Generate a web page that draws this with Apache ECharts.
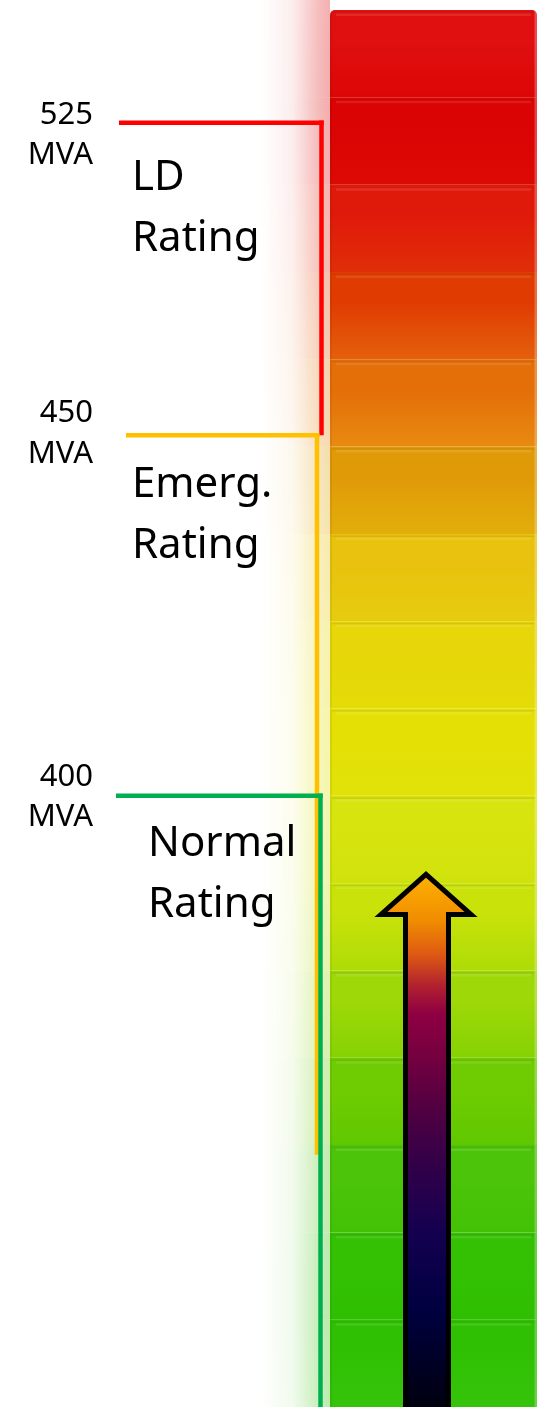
<!DOCTYPE html>
<html><head><meta charset="utf-8">
<script src="https://cdn.jsdelivr.net/npm/echarts@6/dist/echarts.min.js"></script>
<style>html,body{margin:0;padding:0;background:#fff}#c{width:551px;height:1407px}</style>
</head><body><div id="c"></div>
<script>
// ---- DATA ----
// gauge segments, listed from the bottom segment (level 0-1) to the top one (level 15-16)
const segmentLevels = [0,1,2,3,4,5,6,7,8,9,10,11,12,13,14,15];
const segmentTopColors    = ['#2fc003','#34c104','#4cc40a','#70cc02','#9ed808','#c8e20a','#d8e40e','#e4e006','#e6d60a','#e8c20e','#e09a08','#e46e08','#e03c02','#e01a0a','#da0404','#e01010'];
const segmentBottomColors = ['#36c40a','#2ec000','#42c206','#60c800','#86d204','#aedc06','#d0e20c','#e0e208','#e4dc06','#e6cc0e','#e2ae0a','#e88a10','#e4600c','#e02e08','#dc0a04','#dc0606'];
// ratings
const ratingValues = [525, 450, 400];
const ratingUnit = 'MVA';
const ratingNames = [['LD','Rating'], ['Emerg.','Rating'], ['Normal','Rating']];
const ratingLevels = [14.71, 11.13, 7.0];      // gauge level where each rating starts
const ratingLevelEnds = [11.13, 2.89, 0];      // gauge level where each rating bracket ends
const ratingColors = ['#ff0000', '#ffc000', '#00b050'];
// loading arrow (tip level on gauge)
const loadArrowLevel = [6.1];

// ---- LAYOUT (not data) ----
const BAR_X0 = 330, BAR_X1 = 537, GLOW_X0 = 262;
const ratingLayout = [
  {hx: 119, vx: 321.5, numDy: 4.5, nameX: 132, nameDy: 71.5},
  {hx: 126, vx: 317,   numDy: -10, nameX: 132, nameDy: 66},
  {hx: 116, vx: 320.5, numDy: -7,  nameX: 148, nameDy: 64.5}
];
const SMALL_FS = 31, BIG_FS = 42, SMALL_LH = 40.5, BIG_LH = 61;
const FONT = '"Noto Sans", "Open Sans", sans-serif';

function rgba(hex, a) {
  const n = parseInt(hex.slice(1), 16);
  return 'rgba(' + ((n >> 16) & 255) + ',' + ((n >> 8) & 255) + ',' + (n & 255) + ',' + a + ')';
}
function mid(fs) { return 0.388 * fs; }

const chart = echarts.init(document.getElementById('c'), null, {renderer: 'canvas'});

function renderSegment(params, api) {
  const i = params.dataIndex;
  const lvl = segmentLevels[i];
  const top = api.coord([BAR_X0, lvl + 1]);
  const bot = api.coord([BAR_X1, lvl]);
  const y0 = top[1], y1 = bot[1];
  const h = y1 - y0;
  const c0 = segmentTopColors[i], c1 = segmentBottomColors[i];
  const isTop = i === segmentLevels.length - 1;
  const glowTop = isTop ? y0 - 10 : y0;
  const children = [
    {type: 'rect', shape: {x: GLOW_X0, y: glowTop, width: BAR_X0 - GLOW_X0, height: y1 - glowTop},
      style: {fill: new echarts.graphic.LinearGradient(0, 0, 0, 1, [
        {offset: 0, color: rgba(c0, 0.33)}, {offset: 1, color: rgba(c1, 0.33)}])}},
    {type: 'rect', shape: {x: BAR_X0, y: y0, width: BAR_X1 - BAR_X0, height: h, r: isTop ? [5,5,0,0] : 0},
      style: {fill: new echarts.graphic.LinearGradient(0, 0, 0, 1, [
        {offset: 0, color: c0}, {offset: 0.35, color: c0}, {offset: 1, color: c1}])}},
    {type: 'rect', shape: {x: BAR_X0 + 2, y: y0 + 1.5, width: BAR_X1 - BAR_X0 - 4, height: 1.6},
      style: {fill: 'rgba(90,40,0,0.10)'}},
    {type: 'rect', shape: {x: BAR_X0 + 6, y: y0 + 3.5, width: BAR_X1 - BAR_X0 - 12, height: 2.5},
      style: {fill: 'rgba(255,255,255,0.10)'}},
    {type: 'rect', shape: {x: BAR_X0, y: y0, width: 2, height: h},
      style: {fill: 'rgba(0,0,0,0.06)'}},
    {type: 'rect', shape: {x: BAR_X1 - 2.5, y: y0, width: 2.5, height: h},
      style: {fill: 'rgba(255,255,255,0.25)'}}
  ];
  return {type: 'group', children: children};
}

function renderFade(params, api) {
  const yTop = api.coord([0, 16])[1] - 10;
  const yBot = api.coord([0, 0])[1];
  return {type: 'rect', shape: {x: GLOW_X0 - 1, y: yTop, width: BAR_X0 - GLOW_X0 + 1, height: yBot - yTop},
    style: {fill: new echarts.graphic.LinearGradient(0, 0, 1, 0, [
      {offset: 0, color: 'rgba(255,255,255,1)'}, {offset: 0.45, color: 'rgba(255,255,255,0.79)'},
      {offset: 0.85, color: 'rgba(255,255,255,0.15)'}, {offset: 1, color: 'rgba(255,255,255,0)'}])}};
}

function renderRating(params, api) {
  const i = params.dataIndex;
  const L = ratingLayout[i];
  const yTop = api.coord([0, ratingLevels[i]])[1];
  const yEnd = api.coord([0, ratingLevelEnds[i]])[1];
  const col = ratingColors[i];
  const lw = 4.5;
  const base1 = yTop + L.numDy;
  const nb1 = yTop + L.nameDy;
  const txt = (s, x, baseline, fs, align) => ({
    type: 'text',
    style: {text: s, x: x, y: baseline - mid(fs), font: fs + 'px ' + FONT, fill: '#000',
      align: align, textAlign: align, verticalAlign: 'middle', textVerticalAlign: 'middle'}
  });
  return {type: 'group', children: [
    {type: 'line', shape: {x1: L.hx, y1: yTop, x2: L.vx + lw / 2, y2: yTop}, style: {stroke: col, lineWidth: lw}},
    {type: 'line', shape: {x1: L.vx, y1: yTop - lw / 2, x2: L.vx, y2: yEnd}, style: {stroke: col, lineWidth: lw}},
    txt(String(ratingValues[i]), 93, base1, SMALL_FS, 'right'),
    txt(ratingUnit, 93, base1 + SMALL_LH, SMALL_FS, 'right'),
    txt(ratingNames[i][0], L.nameX, nb1, BIG_FS, 'left'),
    txt(ratingNames[i][1], L.nameX, nb1 + BIG_LH, BIG_FS, 'left')
  ]};
}

function renderArrow(params, api) {
  const tip = api.coord([426, loadArrowLevel[params.dataIndex]]);
  const bottomY = api.coord([0, 0])[1] + 8;
  const cx = tip[0], ty = tip[1];
  const hb = ty + 40;
  const pts = [[cx, ty], [cx + 45, hb], [cx + 22.5, hb], [cx + 22.5, bottomY],
               [cx - 20.5, bottomY], [cx - 20.5, hb], [cx - 45, hb]];
  return {type: 'polygon', shape: {points: pts},
    style: {stroke: '#000', lineWidth: 5, lineJoin: 'miter', miterLimit: 10,
      fill: new echarts.graphic.LinearGradient(0, 0, 0, 1, [
        {offset: 0, color: '#ffb400'}, {offset: 0.09, color: '#f08c00'},
        {offset: 0.15, color: '#de5a12'}, {offset: 0.21, color: '#b02030'},
        {offset: 0.26, color: '#8e0042'}, {offset: 0.33, color: '#780040'},
        {offset: 0.42, color: '#560040'}, {offset: 0.53, color: '#340048'},
        {offset: 0.66, color: '#140050'}, {offset: 0.8, color: '#000040'},
        {offset: 1, color: '#00000a'}])}};
}

chart.setOption({
  animation: false,
  grid: {left: 0, right: 0, top: 10, height: 1400, show: false},
  xAxis: {type: 'value', min: 0, max: 551, show: false},
  yAxis: {type: 'value', min: 0, max: 16, show: false},
  series: [
    {type: 'custom', renderItem: renderSegment, data: segmentLevels.map(l => [0, l]), silent: true, z: 1},
    {type: 'custom', renderItem: renderFade, data: [[0, 0]], silent: true, z: 2},
    {type: 'custom', renderItem: renderRating, data: ratingValues.map((v, i) => [0, ratingLevels[i]]), silent: true, z: 3},
    {type: 'custom', renderItem: renderArrow, data: loadArrowLevel.map(l => [426, l]), silent: true, z: 4}
  ]
});
</script>
</body></html>
